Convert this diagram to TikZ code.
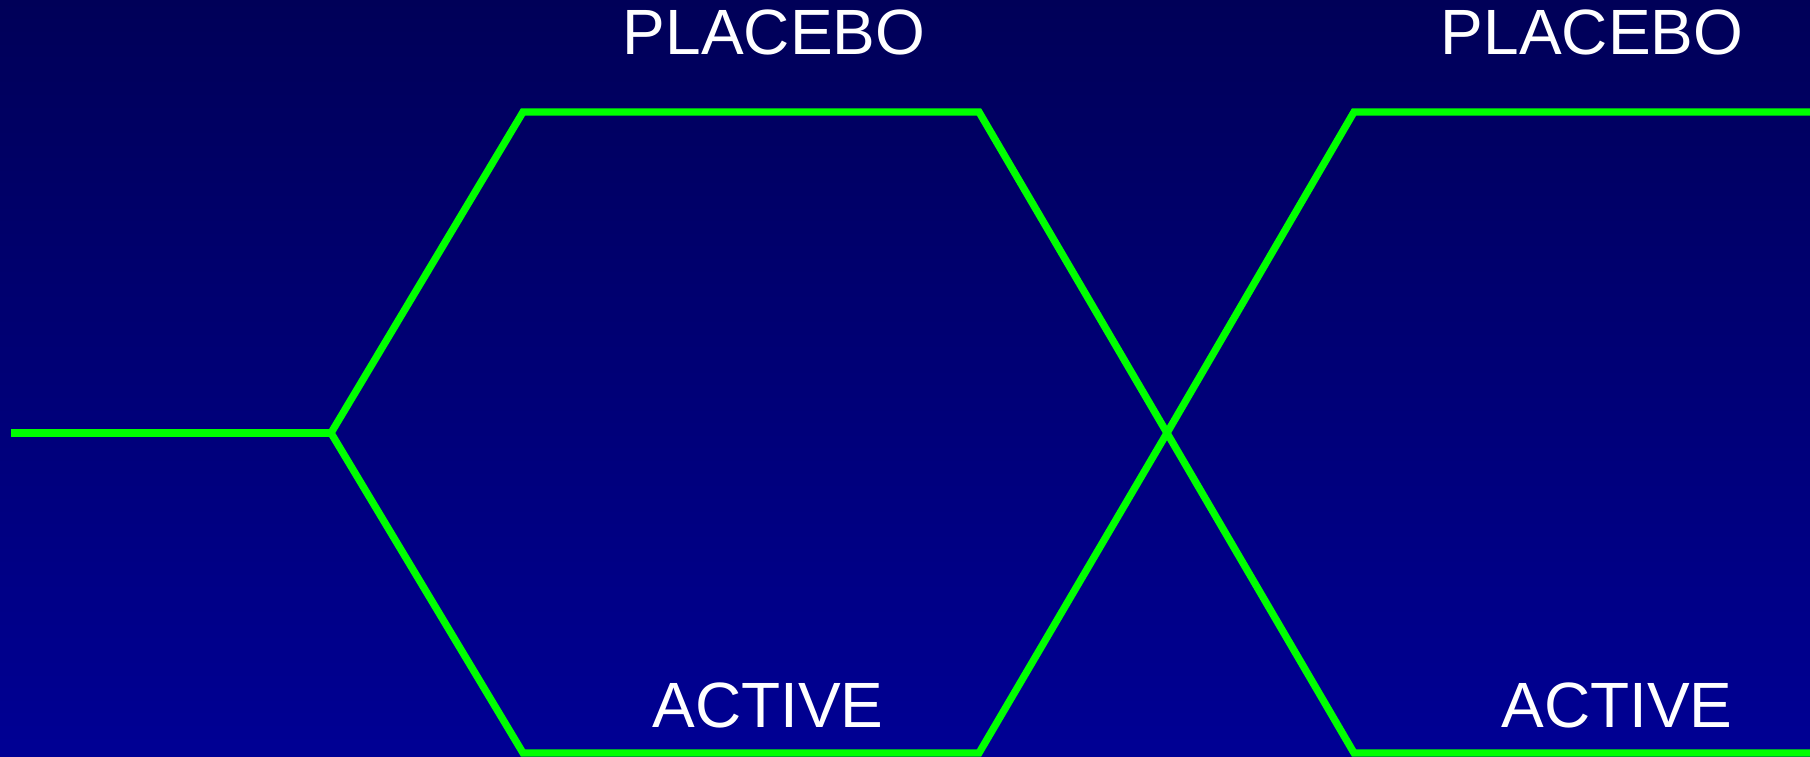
\documentclass[tikz,border=0pt]{standalone}
\usepackage{fontspec}
\setmainfont{Liberation Sans}
\begin{document}
\begin{tikzpicture}[x=1pt,y=1pt,
  arm/.style={line width=7.3pt, line join=miter},
  lbl/.style={text=white, font=\fontsize{64}{64}\selectfont, anchor=base, inner sep=0pt}]
\definecolor{bgtop}{RGB}{0,0,88}
\definecolor{bgbot}{RGB}{0,0,148}
\definecolor{armgreen}{RGB}{0,255,0}
\useasboundingbox (0,0) rectangle (1810,757);
\shade[top color=bgtop, bottom color=bgbot] (0,0) rectangle (1810,757);
% coordinates (y flipped: 757 - y)
\coordinate (start) at (11,324);
\coordinate (split) at (331,324);
\coordinate (pA) at (523,645);
\coordinate (pB) at (979,645);
\coordinate (aA) at (523,4);
\coordinate (aB) at (979,4);
\coordinate (cross) at (1167,324);
\coordinate (pC) at (1354,645);
\coordinate (aC) at (1354,4);
\coordinate (pEnd) at (1810,645);
\coordinate (aEnd) at (1810,4);
\draw[arm, draw=armgreen] (start) -- (split);
\draw[arm, draw=armgreen] (split) -- (pA) -- (pB) -- (cross) -- (aC) -- (aEnd);
\draw[arm, draw=armgreen] (split) -- (aA) -- (aB) -- (cross) -- (pC) -- (pEnd);
\node[lbl] (plac1) at (774,702) {PLACEBO};
\node[lbl] (plac2) at (1592,702) {PLACEBO};
\node[lbl] (act1) at (768,29) {ACTIVE};
\node[lbl] (act2) at (1617,29) {ACTIVE};
\end{tikzpicture}
\end{document}
